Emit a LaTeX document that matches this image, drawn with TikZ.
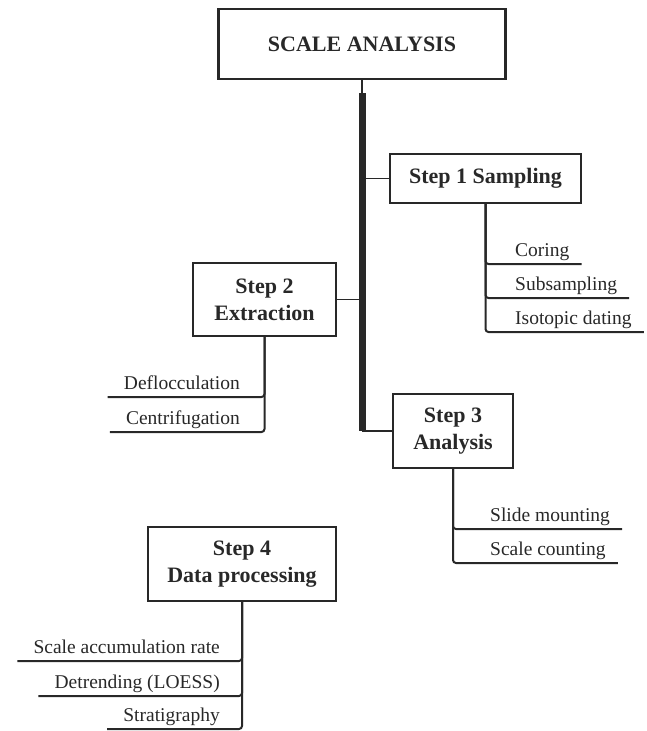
\documentclass[tikz,border=0pt]{standalone}
\usepackage{fontspec}
\setmainfont{Liberation Serif}
\usetikzlibrary{positioning}

\definecolor{ink}{RGB}{40,40,40}

\tikzset{
  stepbox/.style={draw=ink, text=ink, line width=2.2pt, align=center, inner sep=0pt,
    font=\fontsize{22}{27}\selectfont\bfseries},
  item/.style={text=ink, font=\fontsize{19.5}{23}\selectfont, inner ysep=3pt, text depth=4pt},
  itemr/.style={item, anchor=south west, inner xsep=12pt},
  iteml/.style={item, anchor=south east, inner xsep=16pt},
  branch/.style={draw=ink, line width=2pt, rounded corners=3pt},
  link/.style={draw=ink, line width=1.2pt},
  spine/.style={draw=ink, line width=7pt}
}

\begin{document}
\begin{tikzpicture}[x=1pt,y=-1pt]
    \useasboundingbox (0,0) rectangle (647,731);
    % Boxes:
    \node[stepbox, minimum width=287pt, minimum height=70pt] (title) at (362,44) {SCALE ANALYSIS};
    \node[stepbox, minimum width=191pt, minimum height=49pt] (s1) at (485.5,178.5) {Step 1 Sampling};
    \node[stepbox, minimum width=143pt, minimum height=73pt] (s2) at (264.5,299.5) {Step 2\\Extraction};
    \node[stepbox, minimum width=120pt, minimum height=74pt] (s3) at (453,431) {Step 3\\Analysis};
    \node[stepbox, minimum width=188pt, minimum height=74pt] (s4) at (242,564) {Step 4\\Data processing};
    % Main line:
    \coordinate (top) at (362,93);
    \draw[link] (title.south) -- (top);
    \draw[spine] (top) -- (top |- s3.west);
    \draw[link] (s1.west) -- (s1.west -| top);
    \draw[link] (s2.east) -- (s2.east -| top);
    \draw[draw=ink, line width=2.5pt] (s3.west) -- (s3.west -| top);
    % Sub-steps:
    \foreach \name/\y/\txt in {coring/264/Coring, subsampling/298/Subsampling, dating/332/Isotopic dating} {
        \node[itemr] (\name) at (503,\y) {\txt};
        \draw[branch] (s1.south) |- (\name.south east);
    }
    \foreach \name/\y/\txt in {defloc/397/Deflocculation, centri/432/Centrifugation} {
        \node[iteml] (\name) at (256,\y) {\txt};
        \draw[branch] (s2.south) |- (\name.south west);
    }
    \foreach \name/\y/\txt in {mounting/529/Slide mounting, counting/563/Scale counting} {
        \node[itemr] (\name) at (478,\y) {\txt};
        \draw[branch] (s3.south) |- (\name.south east);
    }
    \foreach \name/\y/\txt in {rate/661/Scale accumulation rate, loess/696/Detrending (LOESS), strat/729/Stratigraphy} {
        \node[iteml] (\name) at (236,\y) {\txt};
        \draw[branch] (s4.south) |- (\name.south west);
    }
\end{tikzpicture}
\end{document}
